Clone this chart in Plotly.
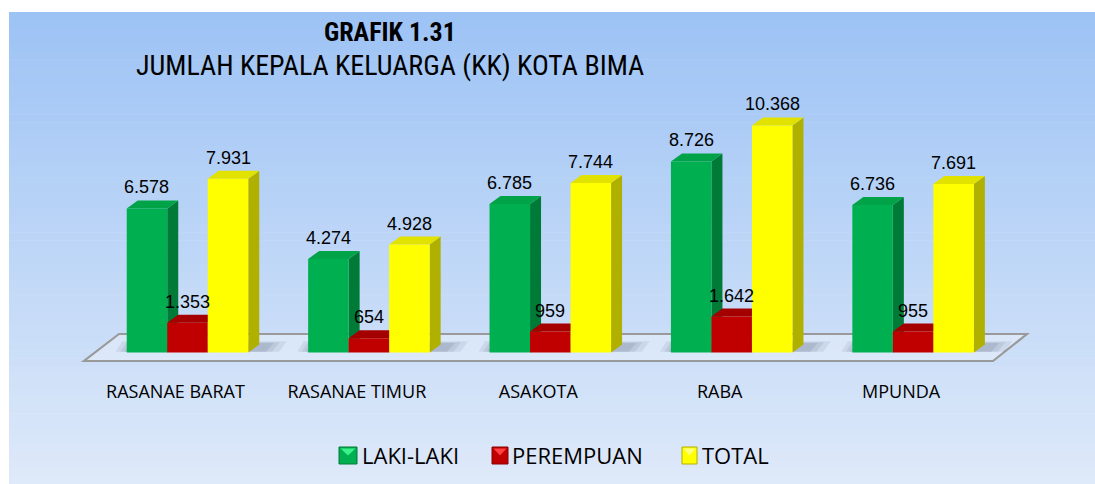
import plotly.graph_objects as go

categories = ["RASANAE BARAT", "RASANAE TIMUR", "ASAKOTA", "RABA", "MPUNDA"]
laki_laki = [6578, 4274, 6785, 8726, 6736]
perempuan = [1353, 654, 959, 1642, 955]
total = [7931, 4928, 7744, 10368, 7691]

series = [
    ("LAKI-LAKI", laki_laki, "#00B050", "#007A37", "#00A347", "#3CF08A"),
    ("PEREMPUAN", perempuan, "#C00000", "#8A0000", "#A50000", "#FF4040"),
    ("TOTAL", total, "#FFFF00", "#B0B000", "#E2E200", "#FFFF80"),
]

W, H = 1095, 484
# plot area in pixels
PL, PR, PT, PB = 79, 1030, 100, 370
ML, MR, MT, MB = PL, W - PR, PT, H - PB
PX_PER_X = 181.4
PX_PER_Y = 0.0219
X0_PX = 187.5
ZERO_PX = 352.5
xr = [(PL - X0_PX) / PX_PER_X, (PR - X0_PX) / PX_PER_X]
yr = [-(PB - ZERO_PX) / PX_PER_Y, (ZERO_PX - PT) / PX_PER_Y]

BARGAP = 0.33
bw = (1 - BARGAP) / 3
DX = 11 / PX_PER_X
DY = 8 / PX_PER_Y

SANS = "Liberation Sans, Arial, sans-serif"
NARROW = "Liberation Sans Narrow, Arial Narrow, Roboto Condensed, Liberation Sans, sans-serif"
CAL = "Open Sans, Noto Sans, sans-serif"


def px2paperx(px):
    return (px - PL) / (PR - PL)


def py2papery(py):
    return (PB - py) / (PB - PT)


def fx(px):
    return (px - X0_PX) / PX_PER_X


def fy(py):
    return (ZERO_PX - py) / PX_PER_Y


fig = go.Figure()
xs = list(range(len(categories)))
for name, vals, c_front, c_side, c_top, c_hi in series:
    fig.add_trace(go.Bar(
        x=xs, y=vals, name=name,
        marker=dict(color=c_front, line=dict(width=0)),
        hoverinfo="x+y", showlegend=False,
    ))

shapes = []
# background gradient
top_c = (157, 195, 245)
bot_c = (222, 233, 249)
n = 60
y_top, y_bot = 12, H
for i in range(n):
    t = i / (n - 1)
    c = tuple(int(round(top_c[k] + (bot_c[k] - top_c[k]) * t)) for k in range(3))
    ya = y_top + (y_bot - y_top) * i / n
    yb = min(y_top + (y_bot - y_top) * (i + 1) / n + 0.6, y_bot)
    shapes.append(dict(type="rect", xref="paper", yref="paper", layer="below",
                       x0=px2paperx(9), x1=px2paperx(W + 2), y0=py2papery(ya), y1=py2papery(yb),
                       fillcolor="rgb(%d,%d,%d)" % c, line=dict(width=0)))

# floor
floor = [(119, 334), (1027, 334), (993, 361), (84, 361)]
path = "M " + " L ".join("%f,%f" % (fx(a), fy(b)) for a, b in floor) + " Z"
shapes.append(dict(type="path", xref="x", yref="y", layer="below", path=path,
                   fillcolor="rgba(232,239,250,0.55)", line=dict(color="#9A9A9A", width=2.2)))

# soft shadows behind groups
for i in xs:
    left = i - 1.5 * bw
    right = i + 1.5 * bw
    for grow, alpha in [(1.0, 0.10), (0.6, 0.12), (0.25, 0.14)]:
        sp = "M %f,%f L %f,%f L %f,%f L %f,%f Z" % (
            left - DX * grow, DY * 0.1, right + DX * (1.2 + 1.6 * grow), DY * 0.1,
            right + DX * (1.9 + 1.6 * grow), DY * (1.1 + 0.3 * grow), left + DX * (0.6 - grow), DY * (1.1 + 0.3 * grow))
        shapes.append(dict(type="path", xref="x", yref="y", layer="below", path=sp,
                           fillcolor="rgba(80,90,115,%.2f)" % alpha, line=dict(width=0)))

# 3D side / top faces
for i in xs:
    for k, (name, vals, c_front, c_side, c_top, c_hi) in enumerate(series):
        v = vals[i]
        cx = i + (k - 1) * bw
        L, R = cx - bw / 2, cx + bw / 2
        side = "M %f,%f L %f,%f L %f,%f L %f,%f Z" % (R, 0, R + DX, DY, R + DX, v + DY, R, v)
        top = "M %f,%f L %f,%f L %f,%f L %f,%f Z" % (L, v, L + DX, v + DY, R + DX, v + DY, R, v)
        shapes.append(dict(type="path", xref="x", yref="y", layer="below", path=side,
                           fillcolor=c_side, line=dict(width=0)))
        shapes.append(dict(type="path", xref="x", yref="y", layer="below", path=top,
                           fillcolor=c_top, line=dict(width=0)))

annotations = []
for i in xs:
    for k, (name, vals, c_front, c_side, c_top, c_hi) in enumerate(series):
        v = vals[i]
        cx = i + (k - 1) * bw
        annotations.append(dict(x=cx, y=v, xref="x", yref="y", yanchor="bottom", yshift=9,
                                text=f"{v:,}".replace(",", "."), showarrow=False,
                                font=dict(family=SANS, size=18, color="#000000")))

annotations.append(dict(xref="paper", yref="paper", x=px2paperx(390), y=py2papery(32),
                        xanchor="center", yanchor="middle", showarrow=False,
                        text="<b>GRAFIK 1.31</b>",
                        font=dict(family=NARROW, size=26, color="#000000")))
annotations.append(dict(xref="paper", yref="paper", x=px2paperx(390), y=py2papery(66),
                        xanchor="center", yanchor="middle", showarrow=False,
                        text="JUMLAH KEPALA KELUARGA (KK) KOTA BIMA",
                        font=dict(family=NARROW, size=28, color="#000000")))

# legend (drawn manually)
legend_pos = [(339, 357, 363), (492, 508, 513), (682, 697, 703)]
for (name, vals, c_front, c_side, c_top, c_hi), (sx0, sx1, tx) in zip(series, legend_pos):
    sy0, sy1 = 447, 464
    shapes.append(dict(type="rect", xref="paper", yref="paper", layer="above",
                       x0=px2paperx(sx0), x1=px2paperx(sx1), y0=py2papery(sy1), y1=py2papery(sy0),
                       fillcolor=c_front, line=dict(color=c_side, width=1)))
    mx = (sx0 + sx1) / 2
    tri = "M %f,%f L %f,%f L %f,%f Z" % (px2paperx(sx0 + 1.5), py2papery(sy0 + 1.5),
                                         px2paperx(sx1 - 1.5), py2papery(sy0 + 1.5),
                                         px2paperx(mx), py2papery((sy0 + sy1) / 2))
    shapes.append(dict(type="path", xref="paper", yref="paper", layer="above", path=tri,
                       fillcolor=c_hi, line=dict(width=0)))
    annotations.append(dict(xref="paper", yref="paper", x=px2paperx(tx - 3), y=py2papery(455),
                            xanchor="left", yanchor="middle", showarrow=False, text=name,
                            font=dict(family=CAL, size=22, color="#000000")))

fig.update_layout(
    width=W, height=H,
    margin=dict(l=ML, r=MR, t=MT, b=MB, pad=0),
    paper_bgcolor="#FFFFFF",
    plot_bgcolor="rgba(0,0,0,0)",
    barmode="group", bargap=BARGAP, bargroupgap=0,
    shapes=shapes, annotations=annotations,
    showlegend=False,
    xaxis=dict(range=xr, tickmode="array", tickvals=xs, ticktext=categories,
               showgrid=False, zeroline=False, showline=False, ticks="",
               ticklabelshift=-12, ticklabelstandoff=9,
               tickfont=dict(family=CAL, size=18, color="#000000")),
    yaxis=dict(range=yr, visible=False, showgrid=False, zeroline=False),
)

fig.write_html("out.html", config={"displayModeBar": False},
               post_script="document.body.style.margin='0';document.body.style.overflow='hidden';")
